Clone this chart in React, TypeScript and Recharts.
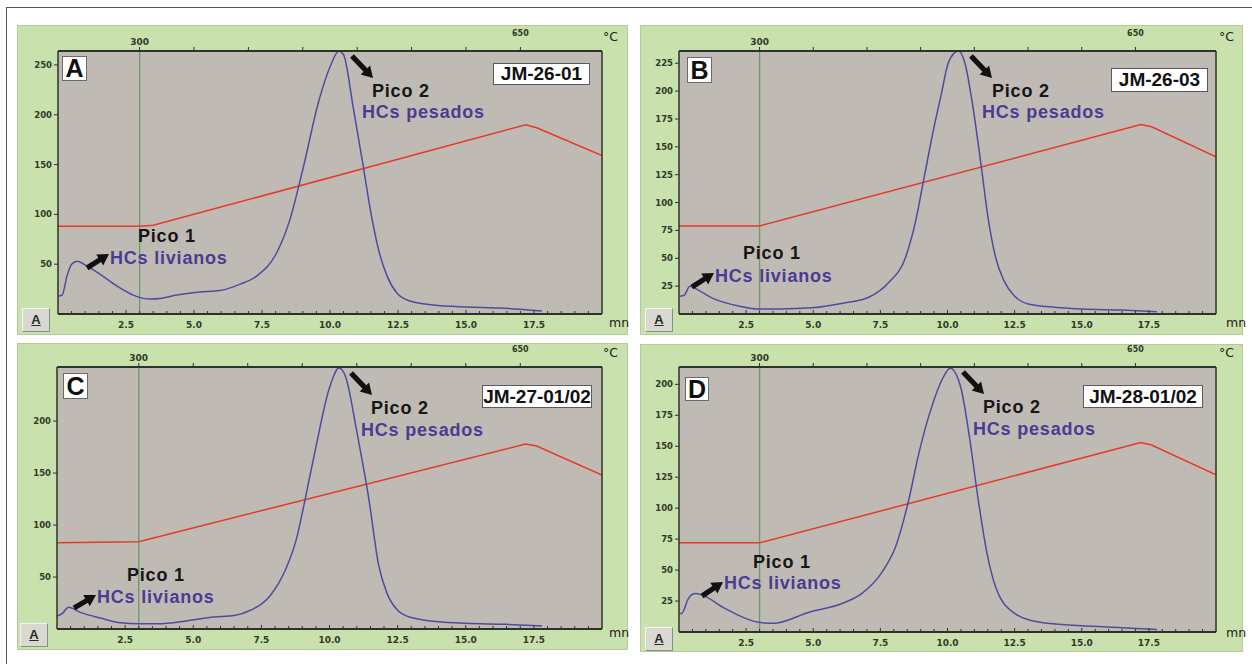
import React from "react";
import { LineChart, Line, XAxis, YAxis, CartesianGrid, ReferenceLine } from "recharts";

// time axis (minutes)
const minorTicks = [0.5, 1, 1.5, 2, 2.5, 3, 3.5, 4, 4.5, 5, 5.5, 6, 6.5, 7, 7.5, 8, 8.5, 9, 9.5, 10, 10.5, 11, 11.5, 12, 12.5, 13, 13.5, 14, 14.5, 15, 15.5, 16, 16.5, 17, 17.5, 18, 18.5, 19, 19.5];
const majorTicks = [2.5, 5, 7.5, 10, 12.5, 15, 17.5];
const majorLabels = ["2.5", "5.0", "7.5", "10.0", "12.5", "15.0", "17.5"];

// temperature axis (top)
const tempTicks = [3, 5, 7, 9, 11, 13, 15, 17];
const tempLabels = ["300", "", "", "", "", "", "", "650"];

// y ticks
const yTicksA = [50, 100, 150, 200, 250];
const yTicksB = [25, 50, 75, 100, 125, 150, 175, 200, 225];
const yTicksC = [50, 100, 150, 200];
const yTicksD = [25, 50, 75, 100, 125, 150, 175, 200];

// FID signal (blue)
const signalA = [
  { t: 0, v: 18 }, { t: 0.15, v: 19 }, { t: 0.33, v: 38 }, { t: 0.5, v: 50 }, { t: 0.7, v: 53 },
  { t: 1.07, v: 48 }, { t: 1.54, v: 40 }, { t: 2.17, v: 28 }, { t: 2.76, v: 19 }, { t: 3.38, v: 15 },
  { t: 3.75, v: 15.5 }, { t: 4.37, v: 19 }, { t: 5.2, v: 22 }, { t: 5.95, v: 23.5 }, { t: 6.7, v: 30 },
  { t: 7.3, v: 38 }, { t: 8.05, v: 62 }, { t: 8.53, v: 95 }, { t: 9.0, v: 145 }, { t: 9.6, v: 215 },
  { t: 10.0, v: 248 }, { t: 10.33, v: 264 }, { t: 10.5, v: 260 }, { t: 10.85, v: 208 }, { t: 11.2, v: 152 },
  { t: 11.5, v: 102 }, { t: 11.8, v: 63 }, { t: 12.1, v: 38 }, { t: 12.46, v: 21 }, { t: 12.94, v: 13 },
  { t: 13.79, v: 9 }, { t: 15.04, v: 7 }, { t: 16.25, v: 6 }, { t: 17.79, v: 3 },
];
const signalB = [
  { t: 0.04, v: 16 }, { t: 0.2, v: 17 }, { t: 0.4, v: 25 }, { t: 0.6, v: 23 }, { t: 1.26, v: 14 },
  { t: 2.26, v: 7 }, { t: 3.0, v: 4.5 }, { t: 3.74, v: 4.5 }, { t: 4.96, v: 5.5 }, { t: 6.2, v: 10 },
  { t: 7.07, v: 15 }, { t: 7.8, v: 28 }, { t: 8.44, v: 51 }, { t: 8.8, v: 82 }, { t: 9.15, v: 125 },
  { t: 9.5, v: 168 }, { t: 9.75, v: 195 }, { t: 10.04, v: 226 }, { t: 10.4, v: 236 }, { t: 10.65, v: 225 },
  { t: 10.9, v: 193 }, { t: 11.26, v: 132 }, { t: 11.5, v: 88 }, { t: 11.8, v: 50 }, { t: 12.1, v: 30 },
  { t: 12.5, v: 16 }, { t: 13.0, v: 9 }, { t: 14.0, v: 6 }, { t: 15.0, v: 4.5 }, { t: 16.5, v: 3.5 },
  { t: 17.8, v: 2 },
];
const signalC = [
  { t: 0, v: 12.5 }, { t: 0.2, v: 15 }, { t: 0.42, v: 21 }, { t: 0.86, v: 16 }, { t: 1.6, v: 10.5 },
  { t: 2.33, v: 6 }, { t: 3.0, v: 5 }, { t: 3.7, v: 5 }, { t: 4.8, v: 8 }, { t: 5.75, v: 11.5 },
  { t: 6.5, v: 13 }, { t: 7.1, v: 18 }, { t: 7.85, v: 33 }, { t: 8.4, v: 58 }, { t: 8.77, v: 85 },
  { t: 9.1, v: 124 }, { t: 9.5, v: 175 }, { t: 10.0, v: 232 }, { t: 10.35, v: 251 }, { t: 10.6, v: 242 },
  { t: 11.0, v: 190 }, { t: 11.45, v: 124 }, { t: 11.8, v: 62 }, { t: 12.1, v: 35 }, { t: 12.5, v: 18 },
  { t: 13.0, v: 11 }, { t: 14.0, v: 7 }, { t: 15.0, v: 5.5 }, { t: 16.5, v: 4.5 }, { t: 17.8, v: 3 },
];
const signalD = [
  { t: 0, v: 15 }, { t: 0.1, v: 15 }, { t: 0.35, v: 27 }, { t: 0.6, v: 31 }, { t: 0.85, v: 30 },
  { t: 1.63, v: 20 }, { t: 2.37, v: 12 }, { t: 2.93, v: 8 }, { t: 3.5, v: 7 }, { t: 4.85, v: 16 },
  { t: 6.07, v: 23 }, { t: 6.8, v: 31 }, { t: 7.55, v: 48 }, { t: 8.07, v: 69 }, { t: 8.55, v: 106 },
  { t: 8.93, v: 144 }, { t: 9.4, v: 181 }, { t: 9.85, v: 206 }, { t: 10.1, v: 213 }, { t: 10.5, v: 197 },
  { t: 10.8, v: 160 }, { t: 11.15, v: 106 }, { t: 11.45, v: 66 }, { t: 11.8, v: 36 }, { t: 12.5, v: 15 },
  { t: 13.4, v: 8 }, { t: 15.0, v: 5 }, { t: 16.5, v: 3.5 }, { t: 17.8, v: 2 },
];

// oven temperature program (red)
const tempA = [{ t: 0, v: 88 }, { t: 3, v: 88 }, { t: 3.5, v: 89 }, { t: 17.2, v: 190 }, { t: 17.6, v: 187 }, { t: 20, v: 159 }];
const tempB = [{ t: 0, v: 79 }, { t: 3, v: 79 }, { t: 17.2, v: 170 }, { t: 17.6, v: 168 }, { t: 20, v: 141 }];
const tempC = [{ t: 0, v: 83 }, { t: 3, v: 84 }, { t: 17.2, v: 178 }, { t: 17.6, v: 176 }, { t: 20, v: 148 }];
const tempD = [{ t: 0, v: 72 }, { t: 3, v: 72 }, { t: 17.2, v: 153 }, { t: 17.6, v: 151 }, { t: 20, v: 127 }];

const GREEN = "#c9e1ad";
const PLOT_BG = "#c0bab4";
const AXIS = "#2c332a";
const TXT = "#2f3a29";
const BLUE = "#4d4c9f";
const RED = "#e5392c";
const REF = "#6c9a69";
const INK = "#161616";
const PURPLE = "#4b3c93";
const TICK_FONT = "'DejaVu Sans', sans-serif";
const LABEL_FONT = "'Liberation Sans', Arial, sans-serif";

const BottomTick = (props: any) => {
  const { x, y, payload } = props;
  const i = majorTicks.indexOf(payload.value);
  return (
    <g>
      <line x1={x} x2={x} y1={y - (i >= 0 ? 4 : 3)} y2={y} stroke={AXIS} strokeWidth={1} />
      {i >= 0 && (
        <text x={x} y={y + 14} textAnchor="middle" fontSize={9} fontWeight={700} fill={TXT} fontFamily={TICK_FONT}>
          {majorLabels[i]}
        </text>
      )}
    </g>
  );
};

const TopTick = (props: any) => {
  const { x, y, payload } = props;
  const i = tempTicks.indexOf(payload.value);
  const last = i === tempTicks.length - 1;
  return (
    <g>
      <line x1={x} x2={x} y1={y - 4} y2={y} stroke={AXIS} strokeWidth={1} />
      {tempLabels[i] && (
        <text x={x} y={last ? y - 15 : y - 6} textAnchor="middle" fontSize={last ? 8 : 9} fontWeight={700} fill={TXT} fontFamily={TICK_FONT}>
          {tempLabels[i]}
        </text>
      )}
    </g>
  );
};

type Box = { x: number; y: number; w: number; h: number };
type Pt = { x: number; y: number };

type PanelCfg = {
  letter: string;
  sample: string;
  signal: { t: number; v: number }[];
  temp: { t: number; v: number }[];
  yMax: number;
  yTicks: number[];
  green: Box;
  plot: { l: number; t: number; r: number; b: number };
  letterBox: Box;
  sampleBox: Box;
  pico2: Pt;
  hcs2: Pt;
  arrow2: [number, number, number, number];
  pico1: Pt;
  hcs1: Pt;
  arrow1: [number, number, number, number];
  button: Pt;
  degC: Pt;
  mn: Pt;
};

const panels: PanelCfg[] = [
  {
    letter: "A", sample: "JM-26-01", signal: signalA, temp: tempA, yMax: 264, yTicks: yTicksA,
    green: { x: 17, y: 25, w: 611, h: 310 }, plot: { l: 58, t: 51, r: 602, b: 314 },
    letterBox: { x: 62, y: 56, w: 25, h: 25 }, sampleBox: { x: 493, y: 63, w: 97, h: 22 },
    pico2: { x: 372, y: 92 }, hcs2: { x: 362, y: 109 }, arrow2: [352, 56, 373, 78],
    pico1: { x: 138, y: 237 }, hcs1: { x: 110, y: 255 }, arrow1: [87, 268, 109, 254],
    button: { x: 22, y: 308 }, degC: { x: 603, y: 29 }, mn: { x: 609, y: 315 },
  },
  {
    letter: "B", sample: "JM-26-03", signal: signalB, temp: tempB, yMax: 236, yTicks: yTicksB,
    green: { x: 640, y: 25, w: 603, h: 310 }, plot: { l: 679, t: 51, r: 1216, b: 314 },
    letterBox: { x: 687, y: 57, w: 25, h: 26 }, sampleBox: { x: 1111, y: 68, w: 97, h: 24 },
    pico2: { x: 992, y: 92 }, hcs2: { x: 982, y: 109 }, arrow2: [971, 56, 992, 78],
    pico1: { x: 743, y: 254 }, hcs1: { x: 715, y: 273 }, arrow1: [692, 287, 714, 273],
    button: { x: 645, y: 308 }, degC: { x: 1219, y: 29 }, mn: { x: 1226, y: 315 },
  },
  {
    letter: "C", sample: "JM-27-01/02", signal: signalC, temp: tempC, yMax: 252, yTicks: yTicksC,
    green: { x: 17, y: 343, w: 611, h: 307 }, plot: { l: 57, t: 367, r: 602, b: 629 },
    letterBox: { x: 63, y: 373, w: 25, h: 26 }, sampleBox: { x: 482, y: 385, w: 110, h: 23 },
    pico2: { x: 371, y: 409 }, hcs2: { x: 361, y: 427 }, arrow2: [351, 373, 372, 395],
    pico1: { x: 127, y: 576 }, hcs1: { x: 97, y: 594 }, arrow1: [74, 608, 96, 595],
    button: { x: 20, y: 623 }, degC: { x: 603, y: 345 }, mn: { x: 609, y: 625 },
  },
  {
    letter: "D", sample: "JM-28-01/02", signal: signalD, temp: tempD, yMax: 214, yTicks: yTicksD,
    green: { x: 640, y: 344, w: 603, h: 308 }, plot: { l: 679, t: 367, r: 1216, b: 632 },
    letterBox: { x: 685, y: 377, w: 24, h: 24 }, sampleBox: { x: 1083, y: 385, w: 120, h: 23 },
    pico2: { x: 983, y: 408 }, hcs2: { x: 973, y: 426 }, arrow2: [963, 372, 984, 394],
    pico1: { x: 753, y: 563 }, hcs1: { x: 724, y: 580 }, arrow1: [702, 596, 723, 582],
    button: { x: 645, y: 627 }, degC: { x: 1219, y: 345 }, mn: { x: 1226, y: 625 },
  },
];

function Panel({ cfg }: { cfg: PanelCfg }) {
  const { green, plot } = cfg;
  const leftW = plot.l - green.x;
  const rightW = green.x + green.w - plot.r;
  const topH = plot.t - green.y;
  const bottomH = green.y + green.h - plot.b;
  return (
    <div
      style={{
        position: "absolute",
        left: green.x,
        top: green.y,
        width: green.w,
        height: green.h,
        background: GREEN,
        boxShadow: "inset 0 0 0 1px #b3cc98",
      }}
    >
      <LineChart width={green.w} height={green.h} margin={{ top: 0, right: 0, bottom: 0, left: 0 }}>
        <CartesianGrid fill={PLOT_BG} stroke="none" horizontal={false} vertical={false} />
        <XAxis
          type="number"
          dataKey="t"
          domain={[0, 20]}
          allowDataOverflow
          ticks={minorTicks}
          interval={0}
          height={bottomH}
          tickSize={0}
          tickMargin={0}
          tickLine={false}
          tick={<BottomTick />}
          axisLine={{ stroke: AXIS, strokeWidth: 2 }}
        />
        <XAxis
          xAxisId="top"
          orientation="top"
          type="number"
          dataKey="t"
          domain={[0, 20]}
          allowDataOverflow
          ticks={tempTicks}
          interval={0}
          height={topH}
          tickSize={0}
          tickMargin={0}
          tickLine={false}
          tick={<TopTick />}
          axisLine={{ stroke: AXIS, strokeWidth: 2 }}
        />
        <YAxis
          type="number"
          domain={[0, cfg.yMax]}
          allowDataOverflow
          ticks={cfg.yTicks}
          interval={0}
          width={leftW}
          tickSize={4}
          tickMargin={2}
          tickLine={{ stroke: AXIS }}
          tick={{ fontSize: 8.5, fontWeight: 700, fill: TXT, fontFamily: TICK_FONT }}
          axisLine={{ stroke: AXIS, strokeWidth: 1.5 }}
        />
        <YAxis
          yAxisId="right"
          orientation="right"
          type="number"
          domain={[0, 1]}
          width={rightW}
          tick={false}
          tickLine={false}
          axisLine={{ stroke: AXIS, strokeWidth: 1.5 }}
        />
        <ReferenceLine x={3} stroke={REF} strokeWidth={1.3} />
        <Line data={cfg.temp} dataKey="v" type="linear" stroke={RED} strokeWidth={1.5} dot={false} isAnimationActive={false} />
        <Line data={cfg.signal} dataKey="v" type="monotone" stroke={BLUE} strokeWidth={1.5} dot={false} isAnimationActive={false} />
      </LineChart>
    </div>
  );
}

function arrowPoints(a: [number, number, number, number]) {
  const [x1, y1, x2, y2] = a;
  const dx = x2 - x1;
  const dy = y2 - y1;
  const len = Math.hypot(dx, dy);
  const ux = dx / len;
  const uy = dy / len;
  const px = -uy;
  const py = ux;
  const head = 11;
  const hw = 6.5;
  const sw = 2.6;
  const bx = x2 - ux * head;
  const by = y2 - uy * head;
  const pts = [
    [x1 + px * sw, y1 + py * sw],
    [bx + px * sw, by + py * sw],
    [bx + px * hw, by + py * hw],
    [x2, y2],
    [bx - px * hw, by - py * hw],
    [bx - px * sw, by - py * sw],
    [x1 - px * sw, y1 - py * sw],
  ];
  return pts.map((p) => p[0].toFixed(1) + "," + p[1].toFixed(1)).join(" ");
}

// peak name (black) over hydrocarbon type (purple)
function PeakLabel({ top, bottom, a, b }: { top: Pt; bottom: Pt; a: string; b: string }) {
  return (
    <g fontFamily={LABEL_FONT} fontWeight={700} fontSize={18} letterSpacing={0.8}>
      <text x={top.x} y={top.y + 4.5} fill={INK}>
        {a}
      </text>
      <text x={bottom.x} y={bottom.y + 8.5} fill={PURPLE}>
        {b}
      </text>
    </g>
  );
}

function Annotations({ cfg }: { cfg: PanelCfg }) {
  return (
    <>
      <div
        style={{
          position: "absolute",
          left: cfg.letterBox.x,
          top: cfg.letterBox.y,
          width: cfg.letterBox.w,
          height: cfg.letterBox.h,
          boxSizing: "border-box",
          border: "1px solid #6a6a6a",
          background: "#fff",
          textAlign: "center",
          lineHeight: cfg.letterBox.h - 2 + "px",
          fontSize: 25,
          fontWeight: 700,
          fontFamily: LABEL_FONT,
          color: "#111",
        }}
      >
        {cfg.letter}
      </div>
      <div
        style={{
          position: "absolute",
          left: cfg.sampleBox.x,
          top: cfg.sampleBox.y,
          width: cfg.sampleBox.w,
          height: cfg.sampleBox.h,
          boxSizing: "border-box",
          border: "1px solid #5a5a5a",
          background: "#fff",
          textAlign: "center",
          lineHeight: cfg.sampleBox.h - 2 + "px",
          fontSize: 19,
          fontWeight: 700,
          fontFamily: LABEL_FONT,
          color: "#111",
          whiteSpace: "nowrap",
        }}
      >
        {cfg.sample}
      </div>
      <div
        style={{
          position: "absolute",
          left: cfg.button.x,
          top: cfg.button.y,
          width: 28,
          height: 24,
          boxSizing: "border-box",
          background: "#d9d9d2",
          borderTop: "1px solid #f4f4f0",
          borderLeft: "1px solid #f4f4f0",
          borderRight: "1px solid #8c8c86",
          borderBottom: "1px solid #8c8c86",
          textAlign: "center",
          lineHeight: "22px",
          fontSize: 13,
          fontWeight: 700,
          fontFamily: LABEL_FONT,
          color: "#2a2a2a",
          textDecoration: "underline",
        }}
      >
        A
      </div>
      <div
        style={{
          position: "absolute",
          left: cfg.degC.x,
          top: cfg.degC.y,
          fontSize: 12.5,
          fontFamily: TICK_FONT,
          color: "#222",
          lineHeight: "16px",
        }}
      >
        °C
      </div>
      <div
        style={{
          position: "absolute",
          left: cfg.mn.x,
          top: cfg.mn.y,
          fontSize: 12.5,
          fontFamily: TICK_FONT,
          color: "#222",
          lineHeight: "16px",
        }}
      >
        mn
      </div>
    </>
  );
}

export default function App() {
  return (
    <div
      style={{
        position: "absolute",
        left: 0,
        top: 0,
        width: 1252,
        height: 664,
        background: "#fff",
        overflow: "hidden",
      }}
    >
      <div
        style={{
          position: "absolute",
          left: 6,
          top: 7,
          width: 1260,
          height: 700,
          borderTop: "1.5px solid #555",
          borderLeft: "1.5px solid #555",
        }}
      />
      {panels.map((p) => (
        <Panel key={p.letter} cfg={p} />
      ))}
      {panels.map((p) => (
        <Annotations key={"ann-" + p.letter} cfg={p} />
      ))}
      <svg width={1252} height={664} style={{ position: "absolute", left: 0, top: 0, pointerEvents: "none" }}>
        {panels.map((p) => (
          <g key={"arr-" + p.letter}>
            <PeakLabel top={p.pico2} bottom={p.hcs2} a="Pico 2" b="HCs pesados" />
            <PeakLabel top={p.pico1} bottom={p.hcs1} a="Pico 1" b="HCs livianos" />
            <polygon points={arrowPoints(p.arrow2)} fill="#111" />
            <polygon points={arrowPoints(p.arrow1)} fill="#111" />
          </g>
        ))}
      </svg>
    </div>
  );
}
